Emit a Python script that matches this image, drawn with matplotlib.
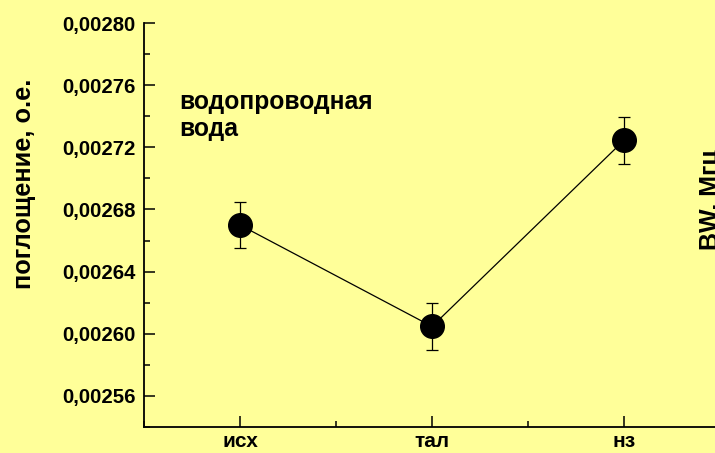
import matplotlib.pyplot as plt
from matplotlib.ticker import FuncFormatter, MultipleLocator, AutoMinorLocator

plt.rcParams['font.family'] = ['Liberation Sans', 'DejaVu Sans']
plt.rcParams['font.weight'] = 'bold'

# поглощение по образцам воды
samples = ['исх', 'тал', 'нз']
absorb = [0.002670, 0.0026047, 0.0027245]
absorb_err = [0.000015, 0.000015, 0.000015]

bg = '#ffff99'
fig = plt.figure(figsize=(7.15, 4.53), dpi=100, facecolor=bg)
ax = fig.add_axes([144 / 715, 26 / 453, 576 / 715, 404 / 453], facecolor=bg)

x = list(range(1, len(samples) + 1))
ax.errorbar(x, absorb, yerr=absorb_err, color='black', lw=0.9,
            marker='o', ms=17, mfc='black', mec='black',
            ecolor='black', elinewidth=0.9, capsize=4, capthick=0.9)

ax.set_xlim(0.5, 3.5)
ax.set_ylim(0.00254, 0.00280)
ax.set_xticks(x)
ax.set_xticklabels(samples)
ax.xaxis.set_minor_locator(MultipleLocator(0.5))
ax.yaxis.set_major_locator(MultipleLocator(0.00004))
ax.yaxis.set_minor_locator(AutoMinorLocator(2))
ax.yaxis.set_major_formatter(FuncFormatter(lambda v, p: f'{v:.5f}'.replace('.', ',')))

for s in ['top', 'right']:
    ax.spines[s].set_visible(False)
for s in ['left', 'bottom']:
    ax.spines[s].set_linewidth(1.3)

ax.tick_params(which='major', direction='in', length=8, width=1.1, pad=6)
ax.tick_params(which='minor', direction='in', length=4, width=1.1)
ax.tick_params(axis='y', labelsize=14.7)
ax.tick_params(axis='x', labelsize=15, pad=3.5)
for lbl in ax.get_xticklabels() + ax.get_yticklabels():
    lbl.set_fontweight('bold')

fig.text(24 / 715, 1 - 184 / 453, 'поглощение, о.е.', rotation=90,
         ha='center', va='center', fontsize=18.3, fontweight='bold')
fig.text(179 / 715, 1 - 90 / 453, 'водопроводная\nвода', ha='left', va='top',
         fontsize=17.7, fontweight='bold', linespacing=1.15)
fig.text(699 / 715, 1 - 200 / 453, 'BW, Мгц', rotation=90,
         ha='left', va='center', fontsize=18, fontweight='bold')

fig.savefig('out.png', dpi=100, facecolor=bg)
